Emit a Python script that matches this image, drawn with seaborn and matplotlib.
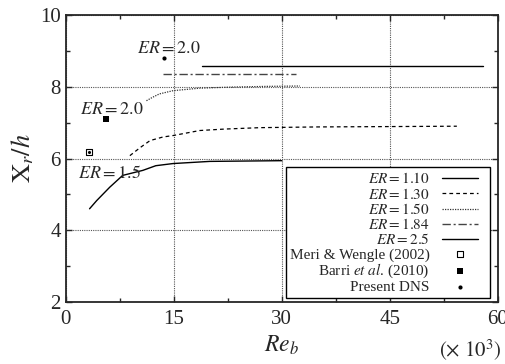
import matplotlib
matplotlib.use('Agg')
import matplotlib.pyplot as plt
import seaborn as sns
from matplotlib.ticker import MultipleLocator

# 曲线数据 (Re_b 单位 10^3)
er110_x = [3.3, 4.3, 6.1, 7.9, 10.7, 12.5, 14.9, 20, 25, 30]
er110_y = [4.6, 4.83, 5.2, 5.53, 5.67, 5.8, 5.86, 5.92, 5.93, 5.94]
er130_x = [8.9, 10.3, 11.7, 13.5, 14.9, 18.6, 22, 27, 35, 45, 54.3]
er130_y = [6.08, 6.3, 6.5, 6.6, 6.64, 6.78, 6.82, 6.86, 6.88, 6.89, 6.9]
er150_x = [11.2, 12, 13, 14.9, 18.6, 23, 28, 32.5]
er150_y = [7.61, 7.7, 7.8, 7.89, 7.96, 7.99, 8.01, 8.02]
er184_x = [13.5, 32]
er184_y = [8.35, 8.35]
er25_x = [18.9, 57.9]
er25_y = [8.58, 8.58]

# 参考点
meri_x, meri_y = [3.2], [6.19]
barri_x, barri_y = [5.6], [7.1]
dns_x, dns_y = [13.6], [8.8]

sns.set_style('ticks')
plt.rcParams['font.family'] = ['Liberation Serif', 'DejaVu Serif']
plt.rcParams['mathtext.fontset'] = 'stix'

fig = plt.figure(figsize=(5.06, 3.64), dpi=100)
ax = fig.add_axes([0.130, 0.170, 0.854, 0.789])

sns.lineplot(x=er110_x, y=er110_y, color='black', lw=1.0, label='$ER = 1.10$', ax=ax)
sns.lineplot(x=er130_x, y=er130_y, color='black', lw=0.9, linestyle=(0, (3, 2.5)), label='$ER = 1.30$', ax=ax)
sns.lineplot(x=er150_x, y=er150_y, color='#333333', lw=0.9, linestyle=(0, (1, 1)), label='$ER = 1.50$', ax=ax)
sns.lineplot(x=er184_x, y=er184_y, color='#444444', lw=1.0, linestyle=(0, (6, 2, 1.5, 2)), label='$ER = 1.84$', ax=ax)
sns.lineplot(x=er25_x, y=er25_y, color='black', lw=1.0, label='$ER = 2.5$', ax=ax)

sns.scatterplot(x=meri_x, y=meri_y, marker='s', s=14, facecolor='white', edgecolor='black',
                linewidth=0.8, label='Meri & Wengle (2002)', ax=ax)
ax.plot(meri_x, meri_y, marker='o', ms=1.2, color='black', ls='none')
sns.scatterplot(x=barri_x, y=barri_y, marker='s', s=22, color='black', linewidth=0,
                label='Barri $et\\ al$. (2010)', ax=ax)
sns.scatterplot(x=dns_x, y=dns_y, marker='o', s=9, color='black', linewidth=0,
                label='Present DNS', ax=ax)

# 注释
ax.text(9.9, 8.94, '$ER = 2.0$', fontsize=13, va='baseline')
ax.text(1.94, 7.25, '$ER = 2.0$', fontsize=13, va='baseline')
ax.text(1.67, 5.47, '$ER = 1.5$', fontsize=13, va='baseline')

ax.set_xlim(0, 60)
ax.set_ylim(2, 10)
ax.set_xticks([0, 15, 30, 45, 60])
ax.set_yticks([2, 4, 6, 8, 10])
ax.xaxis.set_minor_locator(MultipleLocator(7.5))
ax.yaxis.set_minor_locator(MultipleLocator(1))
ax.tick_params(which='both', direction='in', top=True, right=True, labelsize=15, width=1)
ax.tick_params(which='major', length=4)
ax.tick_params(which='minor', length=3)
ax.tick_params(axis='x', pad=6)
ax.grid(True, which='major', color='#555555', linestyle=(0, (1, 1)), lw=0.8)
for sp in ax.spines.values():
    sp.set_linewidth(1.3)
    sp.set_visible(True)

ax.set_xlabel('')
ax.set_ylabel('$\\mathrm{X}_r/h$', fontsize=19, labelpad=3)
fig.text(0.557, 0.035, '$Re_b$', fontsize=17, ha='center')
fig.text(0.992, 0.018, '$(\\times\\ 10^3)$', fontsize=15, ha='right')

leg = ax.legend(loc='lower left', bbox_to_anchor=(0.509, 0.014, 0.472, 0.47), mode='expand',
                markerfirst=False, fontsize=11, labelspacing=0.02, handlelength=2.4,
                handletextpad=0.8, borderpad=0.25, fancybox=False, framealpha=1,
                edgecolor='black', borderaxespad=0)
leg.get_frame().set_linewidth(1.0)

fig.savefig('out.png', dpi=100)
